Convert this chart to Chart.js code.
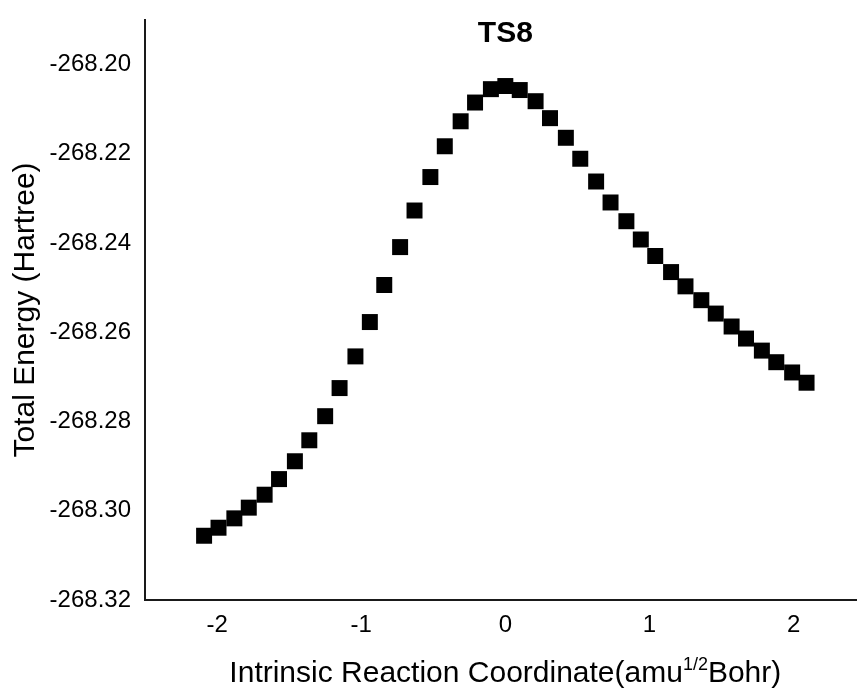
<!DOCTYPE html>
<html>
<head>
<meta charset="utf-8">
<script src="https://cdn.jsdelivr.net/npm/chart.js@4.4.1/dist/chart.umd.min.js"></script>
<style>
  html, body { margin: 0; padding: 0; background: #fff; }
</style>
</head>
<body>
<canvas id="irc-chart" width="857" height="691"></canvas>
<script>
// TS8 IRC energy profile

const chartTitle = 'TS8';
const xTitle = ['Intrinsic Reaction Coordinate(amu', '1/2', 'Bohr)'];
const yTitle = 'Total Energy (Hartree)';

const ircCoord = [
  -2.09, -1.99, -1.88, -1.78, -1.67, -1.57, -1.46, -1.36, -1.25, -1.15,
  -1.04, -0.94, -0.84, -0.73, -0.63, -0.52, -0.42, -0.31, -0.21, -0.10,
   0.00,
   0.10,  0.21,  0.31,  0.42,  0.52,  0.63,  0.73,  0.84,  0.94,  1.04,
   1.15,  1.25,  1.36,  1.46,  1.57,  1.67,  1.78,  1.88,  1.99,  2.09
];
const energy = [
  -268.3056, -268.3038, -268.3017, -268.2993, -268.2964, -268.2929, -268.2889, -268.2842, -268.2788, -268.2725,
  -268.2654, -268.2577, -268.2494, -268.2409, -268.2327, -268.2252, -268.2183, -268.2127, -268.2085, -268.2055,
  -268.2048,
  -268.2057, -268.2082, -268.2120, -268.2164, -268.2211, -268.2262, -268.2309, -268.2351, -268.2392, -268.2429,
  -268.2465, -268.2497, -268.2528, -268.2558, -268.2587, -268.2614, -268.2641, -268.2667, -268.2690, -268.2713
];
const xTicks = [-2, -1, 0, 1, 2];
const yTicks = [-268.32, -268.30, -268.28, -268.26, -268.24, -268.22, -268.20];

const FONT = "'Liberation Sans', Arial, sans-serif";

// drop the label overhang padding so the plot fills the frame like the original
const noPad = s => { s.paddingTop = 0; s.paddingBottom = 0; s.paddingLeft = 0; s.paddingRight = 0; };

// title + x-axis title (needs a superscript, so drawn by hand)
const textPlugin = {
  id: 'ircText',
  afterDraw(chart) {
    const { ctx, scales } = chart;
    const cx = scales.x.getPixelForValue(0);
    ctx.save();
    ctx.fillStyle = '#000';
    ctx.textBaseline = 'alphabetic';

    ctx.textAlign = 'center';
    ctx.font = 'bold 30px ' + FONT;
    ctx.fillText(chartTitle, cx, 42);

    const big = '30px ' + FONT, small = '18px ' + FONT;
    ctx.font = big;
    const w1 = ctx.measureText(xTitle[0]).width;
    const w3 = ctx.measureText(xTitle[2]).width;
    ctx.font = small;
    const w2 = ctx.measureText(xTitle[1]).width;
    let x = cx - (w1 + w2 + w3) / 2;
    const base = chart.height - 9;
    ctx.textAlign = 'left';
    ctx.font = big;   ctx.fillText(xTitle[0], x, base); x += w1;
    ctx.font = small; ctx.fillText(xTitle[1], x, base - 12); x += w2;
    ctx.font = big;   ctx.fillText(xTitle[2], x, base);
    ctx.restore();
  }
};

const ctx = document.getElementById('irc-chart').getContext('2d');
new Chart(ctx, {
  type: 'scatter',
  data: {
    datasets: [{
      data: ircCoord.map((x, i) => ({ x, y: energy[i] })),
      pointStyle: 'rect',
      pointRadius: 11.3,
      pointHoverRadius: 11.3,
      backgroundColor: '#000',
      borderColor: '#000',
      borderWidth: 0
    }]
  },
  options: {
    responsive: false,
    animation: false,
    layout: { autoPadding: false, padding: { top: 20, left: 0, right: 0, bottom: 0 } },
    plugins: { legend: { display: false }, tooltip: { enabled: false } },
    scales: {
      x: {
        type: 'linear',
        min: -2.5, max: 2.44,
        afterBuildTicks: s => { s.ticks = xTicks.map(v => ({ value: v })); },
        afterFit: s => { s.height = 91; noPad(s); },
        grid: { display: false, drawTicks: false },
        border: { display: true, color: '#1a1a1a', width: 2 },
        ticks: { color: '#000', padding: 11, font: { family: FONT, size: 24 }, maxRotation: 0 }
      },
      y: {
        type: 'linear',
        min: -268.32, max: -268.19,
        afterBuildTicks: s => { s.ticks = yTicks.map(v => ({ value: v })); },
        afterFit: s => { s.width = 145; noPad(s); },
        grid: { display: false, drawTicks: false },
        border: { display: true, color: '#1a1a1a', width: 2 },
        ticks: {
          color: '#000', padding: 14, font: { family: FONT, size: 24 },
          callback: v => v.toFixed(2)
        },
        title: {
          display: true, text: yTitle, color: '#000',
          font: { family: FONT, size: 30 },
          padding: { top: 8, bottom: 0 }
        }
      }
    }
  },
  plugins: [textPlugin]
});
</script>
</body>
</html>
